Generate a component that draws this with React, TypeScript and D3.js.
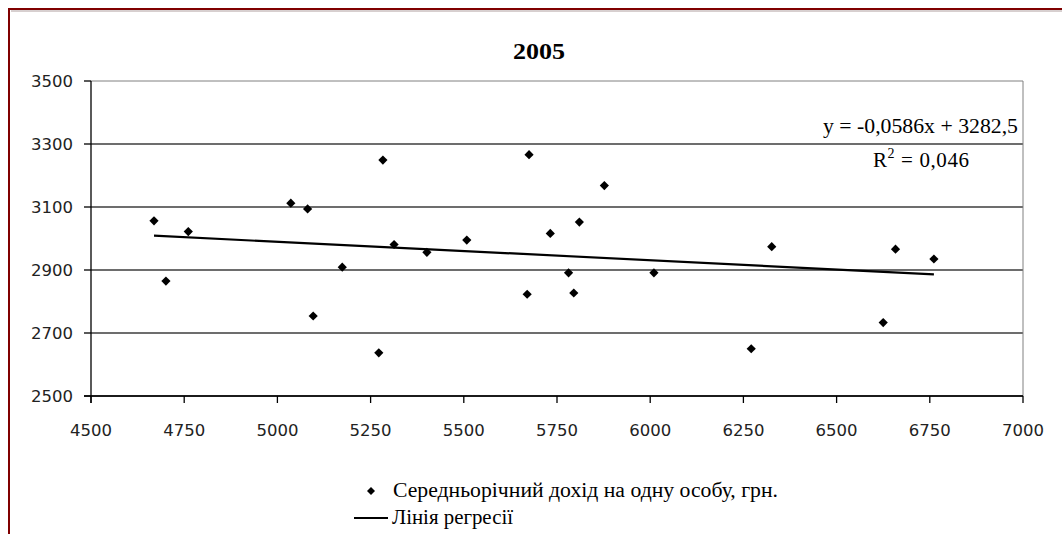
import React from "react";
import * as d3 from "d3";

const incomeX = [4669, 4701, 4761, 5036, 5081, 5096, 5174, 5272, 5283, 5313, 5401, 5508, 5675, 5670, 5732, 5781, 5795, 5810, 5877, 6010, 6271, 6326, 6625, 6658, 6761];
const valueY = [3056, 2865, 3022, 3112, 3094, 2754, 2909, 2637, 3249, 2981, 2956, 2995, 3266, 2823, 3016, 2891, 2827, 3052, 3168, 2891, 2650, 2974, 2733, 2966, 2935];
const xTicks = [4500, 4750, 5000, 5250, 5500, 5750, 6000, 6250, 6500, 6750, 7000];
const yTicks = [2500, 2700, 2900, 3100, 3300, 3500];
const slope = -0.0586;
const intercept = 3282.5;
const title = "2005";
const equationText = "y = -0,0586x + 3282,5";
const r2Text = "0,046";
const seriesName = "Середньорічний дохід на одну особу, грн.";
const trendName = "Лінія регресії";

const W = 1062;
const H = 534;
const left = 91, right = 1023, top = 81, bottom = 396;

export default function App() {
  const x = d3.scaleLinear().domain([4500, 7000]).range([left, right]);
  const y = d3.scaleLinear().domain([2500, 3500]).range([bottom, top]);
  const diamond = (cx: number, cy: number, r: number) =>
    `M${cx},${cy - r}L${cx + r},${cy}L${cx},${cy + r}L${cx - r},${cy}Z`;
  const xMin = d3.min(incomeX) as number;
  const xMax = d3.max(incomeX) as number;
  const line = d3.line<number>().x((d) => x(d)).y((d) => y(slope * d + intercept));
  const serif = "'Liberation Serif', 'Times New Roman', serif";
  const sans = "'DejaVu Sans', Verdana, sans-serif";
  return (
    <svg width={W} height={H} style={{ position: "absolute", left: 0, top: 0, background: "#fff" }}>
      <rect x={0} y={0} width={W} height={H} fill="#fff" />
      {/* outer frame */}
      <rect x={9} y={9} width={W + 20} height={H + 20} fill="none" stroke="#800000" strokeWidth={2} />
      <line x1={11} y1={11} x2={W} y2={11} stroke="#b0a0a0" strokeWidth={1} />
      <text x={539} y={59} textAnchor="middle" fontFamily={serif} fontWeight="bold" fontSize={24} textLength={52} lengthAdjust="spacingAndGlyphs">{title}</text>
      {/* gridlines */}
      {yTicks.map((t) => (
        <line key={"g" + t} x1={left} x2={right} y1={y(t)} y2={y(t)} stroke={t === 3500 ? "#808080" : "#3c3c3c"} strokeWidth={t === 3500 ? 1 : 1.4} />
      ))}
      <line x1={right} x2={right} y1={top} y2={bottom} stroke="#808080" strokeWidth={1} />
      {/* axes */}
      <line x1={left} x2={left} y1={top} y2={bottom + 7} stroke="#000" strokeWidth={1.3} />
      <line x1={left - 7} x2={right} y1={bottom} y2={bottom} stroke="#000" strokeWidth={1.3} />
      {yTicks.map((t) => (
        <g key={"yt" + t}>
          <line x1={left - 7} x2={left} y1={y(t)} y2={y(t)} stroke="#000" strokeWidth={1.3} />
          <text x={73} y={y(t)} dy="0.36em" textAnchor="end" fontFamily={sans} fontSize={16} fill="#222" textLength={42} lengthAdjust="spacingAndGlyphs">{t}</text>
        </g>
      ))}
      {xTicks.map((t) => (
        <g key={"xt" + t}>
          <line x1={x(t)} x2={x(t)} y1={bottom} y2={bottom + 7} stroke="#000" strokeWidth={1.3} />
          <text x={x(t)} y={436} textAnchor="middle" fontFamily={sans} fontSize={16} fill="#222" textLength={42} lengthAdjust="spacingAndGlyphs">{t}</text>
        </g>
      ))}
      {/* trendline */}
      <path d={line([xMin, xMax]) || ""} fill="none" stroke="#000" strokeWidth={2.2} />
      {/* points */}
      {incomeX.map((v, i) => (
        <path key={"p" + i} d={diamond(x(v), y(valueY[i]), 4.6)} fill="#000" />
      ))}
      {/* equation */}
      <text x={823} y={133} fontFamily={serif} fontSize={20} textLength={195} lengthAdjust="spacingAndGlyphs">{equationText}</text>
      <text x={873} y={167} fontFamily={serif} fontSize={21} letterSpacing={0.6}>
        R<tspan dy={-9} fontSize={14}>2</tspan><tspan dy={9}> = {r2Text}</tspan>
      </text>
      {/* legend */}
      <path d={diamond(371, 491, 4)} fill="#000" />
      <text x={393} y={497} fontFamily={serif} fontSize={20} textLength={385} lengthAdjust="spacingAndGlyphs">{seriesName}</text>
      <line x1={354} x2={388} y1={518} y2={518} stroke="#000" strokeWidth={2.2} />
      <text x={392} y={524} fontFamily={serif} fontSize={20} textLength={121} lengthAdjust="spacingAndGlyphs">{trendName}</text>
    </svg>
  );
}
